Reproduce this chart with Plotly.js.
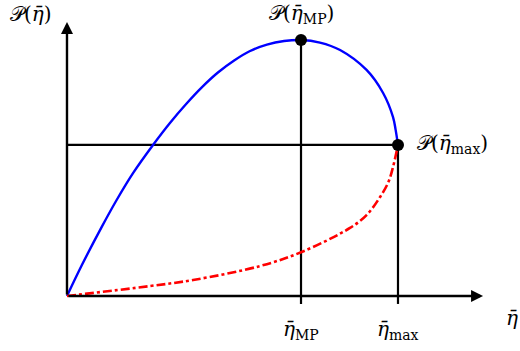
<!DOCTYPE html>
<html>
<head>
<meta charset="utf-8">
<script src="https://cdn.plot.ly/plotly-3.0.1.min.js"></script>
<style>
  html, body { margin: 0; padding: 0; background: #fff; }
  #chart { width: 520px; height: 351px; }
</style>
</head>
<body>
<div id="chart"></div>
<script>
// rami della curva potenza-efficienza (unita' arbitrarie, eta_max = 1, P_max = 1)
const etaUpper = [0, 0.045, 0.105, 0.150, 0.200, 0.261, 0.311, 0.360, 0.408, 0.456, 0.505, 0.553, 0.604, 0.656, 0.707, 0.764, 0.825, 0.905, 0.955, 0.985, 0.993, 1.0];
const powUpper = [0, 0.121, 0.270, 0.375, 0.481, 0.592, 0.676, 0.750, 0.816, 0.873, 0.920, 0.957, 0.982, 0.996, 1.0, 0.990, 0.961, 0.883, 0.793, 0.699, 0.648, 0.590];

const etaLower = [0, 0.251, 0.381, 0.583, 0.709, 0.855, 0.905, 0.946, 0.971, 0.985, 1.0];
const powLower = [0, 0.039, 0.0625, 0.117, 0.172, 0.266, 0.316, 0.387, 0.445, 0.504, 0.590];

// punti notevoli
const etaMP = 0.707;
const etaMax = 1.0;
const powMP = 1.0;
const powAtMax = 0.590;

// etichette
const labelYAxis = '𝒫(<i>η̄</i>)';
const labelXAxis = '<i>η̄</i>';
const labelPMP = '𝒫(<i>η̄</i><sub>MP</sub>)';
const labelPMax = '𝒫(<i>η̄</i><sub>max</sub>)';
const tickLabels = ['<i>η̄</i><sub>MP</sub>', '<i>η̄</i><sub>max</sub>'];
const tickValues = [etaMP, etaMax];

const xEnd = 1.257;   // punta della freccia asse x
const yEnd = 1.07;    // punta della freccia asse y
const tickLen = 0.031;

const serif = 'DejaVu Serif, Liberation Serif, serif';
const labelFont = { family: serif, size: 20, color: '#000' };

const traces = [
    {
        x: etaUpper, y: powUpper,
        type: 'scatter', mode: 'lines',
        line: { color: '#0000ff', width: 2.4, shape: 'spline', smoothing: 1 },
        hoverinfo: 'skip', cliponaxis: false
    },
    {
        x: etaLower, y: powLower,
        type: 'scatter', mode: 'lines',
        line: { color: '#ff0000', width: 2.6, shape: 'spline', smoothing: 1, dash: '9px,3px,3px,3px' },
        hoverinfo: 'skip', cliponaxis: false
    },
    {
        x: [etaMP, etaMax], y: [powMP, powAtMax],
        type: 'scatter', mode: 'markers',
        marker: { color: '#000', size: 12 },
        hoverinfo: 'skip', cliponaxis: false
    }
];

const lineStyle = { color: '#000', width: 2.2 };

const shapes = [
    // linea orizzontale a P(eta_max)
    { type: 'line', xref: 'x', yref: 'y', x0: 0, x1: etaMax, y0: powAtMax, y1: powAtMax, line: lineStyle, layer: 'below' },
    // verticali
    { type: 'line', xref: 'x', yref: 'y', x0: etaMP, x1: etaMP, y0: -tickLen, y1: powMP, line: lineStyle, layer: 'below' },
    { type: 'line', xref: 'x', yref: 'y', x0: etaMax, x1: etaMax, y0: -tickLen, y1: powAtMax, line: lineStyle, layer: 'below' }
];

const annotations = [
    // assi con freccia
    { x: xEnd, y: 0, ax: 0, ay: 0, xref: 'x', yref: 'y', axref: 'x', ayref: 'y', text: '',
      showarrow: true, arrowhead: 2, arrowsize: 1, arrowwidth: 2.4, arrowcolor: '#000', standoff: 0, startstandoff: 0 },
    { x: 0, y: yEnd, ax: 0, ay: 0, xref: 'x', yref: 'y', axref: 'x', ayref: 'y', text: '',
      showarrow: true, arrowhead: 2, arrowsize: 1, arrowwidth: 2.4, arrowcolor: '#000', standoff: 0, startstandoff: 0 },
    // etichette
    { x: -0.109, y: 1.10, xref: 'x', yref: 'y', text: labelYAxis, showarrow: false, font: labelFont },
    { x: 1.344, y: -0.086, xref: 'x', yref: 'y', text: labelXAxis, showarrow: false, font: labelFont },
    { x: etaMP, y: powMP + 0.10, xref: 'x', yref: 'y', text: labelPMP, showarrow: false, font: labelFont },
    { x: etaMax + 0.05, y: powAtMax + 0.005, xref: 'x', yref: 'y', text: labelPMax, showarrow: false, xanchor: 'left', font: labelFont }
];

tickLabels.forEach((t, i) => {
    annotations.push({
        x: tickValues[i], y: -0.133, xref: 'x', yref: 'y', text: t, showarrow: false,
        font: labelFont
    });
});

const layout = {
    width: 520, height: 351,
    margin: { l: 0, r: 0, t: 0, b: 0 },
    paper_bgcolor: '#fff', plot_bgcolor: '#fff',
    showlegend: false,
    xaxis: { range: [-0.2024, 1.3686], visible: false, fixedrange: true },
    yaxis: { range: [-0.2148, 1.15625], visible: false, fixedrange: true },
    shapes: shapes,
    annotations: annotations
};

Plotly.newPlot('chart', traces, layout, { staticPlot: true, displayModeBar: false });
</script>
</body>
</html>
